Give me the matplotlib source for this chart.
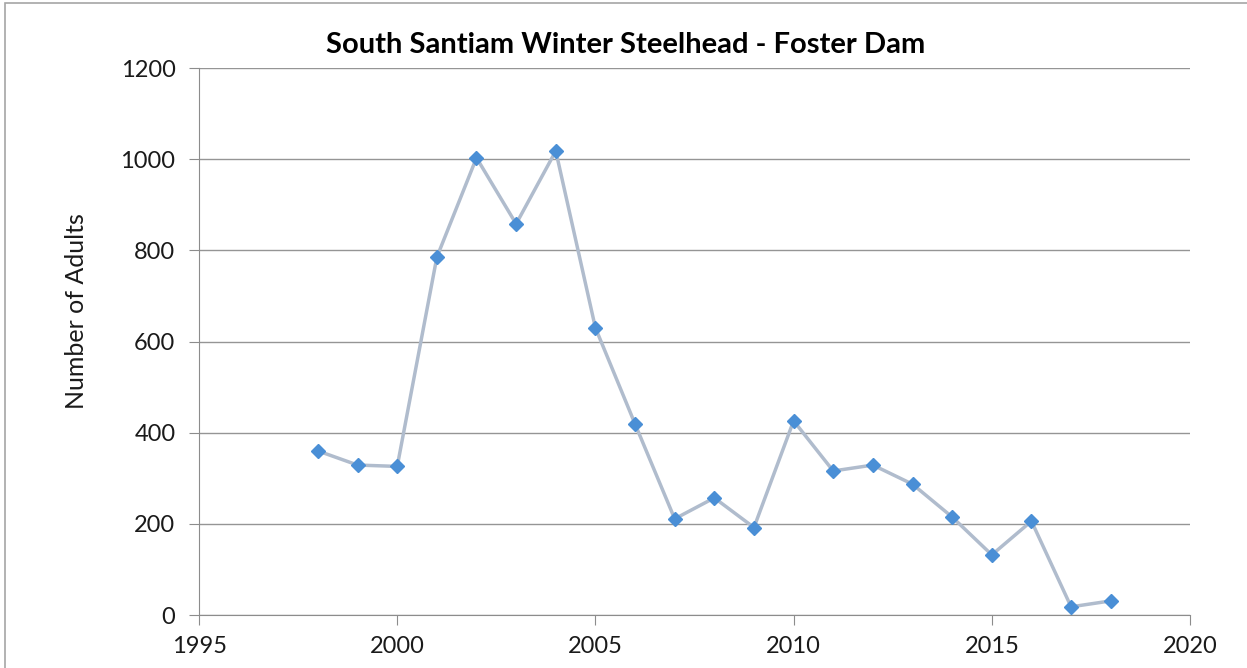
import matplotlib.pyplot as plt
from matplotlib.patches import Rectangle

years = [1998, 1999, 2000, 2001, 2002, 2003, 2004, 2005, 2006, 2007, 2008,
         2009, 2010, 2011, 2012, 2013, 2014, 2015, 2016, 2017, 2018]
adults = [360, 329, 326, 785, 1003, 858, 1018, 630, 419, 211, 257,
          192, 426, 316, 329, 287, 215, 132, 206, 18, 31]

plt.rcParams['font.family'] = ['Lato', 'DejaVu Sans']

fig = plt.figure(figsize=(12.47, 6.68), dpi=100)
ax = fig.add_axes([0.1596, 0.0793, 0.7947, 0.8189])

# outer chart frame
fig.patches.append(Rectangle((5 / 1247, -0.05), 1.2, 1 - 3 / 668 + 0.05,
                             transform=fig.transFigure, fill=False,
                             edgecolor='#a6a6a6', linewidth=1.2))

ax.plot(years, adults, color='#b0bccd', linewidth=2.5, zorder=2)
ax.plot(years, adults, linestyle='none', marker='D', markersize=7,
        color='#4a8fd6', zorder=3)

ax.set_xlim(1995, 2020)
ax.set_ylim(0, 1200)
ax.set_xticks(range(1995, 2021, 5))
ax.set_yticks(range(0, 1201, 200))
ax.grid(axis='y', color='#959595', linewidth=1)
ax.set_axisbelow(True)

for s in ['top', 'right']:
    ax.spines[s].set_visible(False)
ax.spines['left'].set_color('#8c8c8c')
ax.spines['bottom'].set_color('#8c8c8c')
ax.tick_params(axis='both', colors='#8c8c8c', labelcolor='#1a1a1a',
               labelsize=17, length=7)
ax.tick_params(axis='y', pad=10)
ax.tick_params(axis='x', pad=8)

ax.set_ylabel('Number of Adults', fontsize=18, color='#1a1a1a')
ax.yaxis.set_label_coords(-0.112, 0.556)
fig.text(0.502, 0.932, 'South Santiam Winter Steelhead - Foster Dam',
         ha='center', va='center', fontsize=21, fontweight='bold')

fig.savefig('out.png', dpi=100)
